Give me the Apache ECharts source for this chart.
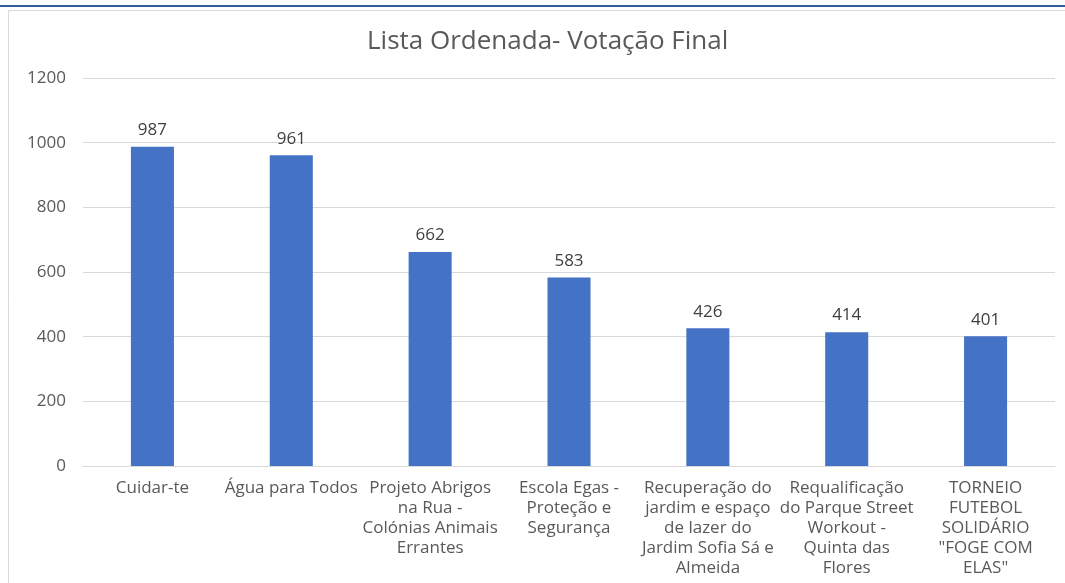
<!DOCTYPE html>
<html>
<head>
<meta charset="utf-8">
<title>Lista Ordenada- Votação Final</title>
<script src="https://cdn.jsdelivr.net/npm/echarts@6/dist/echarts.min.js"></script>
<style>
  html, body { margin: 0; padding: 0; background: #fff; }
  #chart { width: 1065px; height: 583px; }
</style>
</head>
<body>
<div id="chart"></div>
<script>
// projetos (ordem da votação)
const categories = [
  'Cuidar-te',
  'Água para Todos',
  'Projeto Abrigos\nna Rua -\nColónias Animais\nErrantes',
  'Escola Egas -\nProteção e\nSegurança',
  'Recuperação do\njardim e espaço\nde lazer do\nJardim Sofia Sá e\nAlmeida',
  'Requalificação\ndo Parque Street\nWorkout -\nQuinta das\nFlores',
  'TORNEIO\nFUTEBOL\nSOLIDÁRIO\n"FOGE COM\nELAS"'
]
const votes = [987, 961, 662, 583, 426, 414, 401]
const yTicks = [0, 200, 400, 600, 800, 1000, 1200]

const chart = echarts.init(document.getElementById('chart'))
const font = '"Open Sans", sans-serif'

chart.setOption({
  animation: false,
  title: {
    text: 'Lista Ordenada- Votação Final',
    left: 362,
    top: 24,
    textStyle: { fontFamily: font, fontSize: 26, fontWeight: 'normal', color: '#595959' }
  },
  graphic: [
    // linha azul no topo
    { type: 'rect', shape: { x: 0, y: 5, width: 1065, height: 2 }, style: { fill: '#2f5f98' } },
    // moldura do gráfico
    { type: 'polyline', shape: { points: [[8.5, 583], [8.5, 10.5], [1065, 10.5]] },
      style: { stroke: '#d9d9d9', lineWidth: 1, fill: null } }
  ],
  grid: { left: 83, right: 10, top: 78, bottom: 117, containLabel: false },
  xAxis: {
    type: 'category',
    data: categories,
    axisLine: { lineStyle: { color: '#d9d9d9' } },
    axisTick: { show: false },
    axisLabel: {
      interval: 0,
      margin: 12,
      fontFamily: font,
      fontSize: 17,
      lineHeight: 20,
      color: '#595959',
      align: 'center'
    }
  },
  yAxis: {
    type: 'value',
    min: yTicks[0],
    max: yTicks[yTicks.length - 1],
    interval: 200,
    axisLine: { show: false },
    axisTick: { show: false },
    splitLine: { lineStyle: { color: '#d9d9d9' } },
    axisLabel: {
      fontFamily: font, fontSize: 17, color: '#595959', margin: 17,
      formatter: v => String(v)
    }
  },
  series: [{
    type: 'bar',
    data: votes,
    barWidth: '31%',
    itemStyle: { color: '#4472c4' },
    label: {
      show: true,
      position: 'top',
      distance: 8,
      fontFamily: font,
      fontSize: 17,
      color: '#404040'
    }
  }]
})
</script>
</body>
</html>
